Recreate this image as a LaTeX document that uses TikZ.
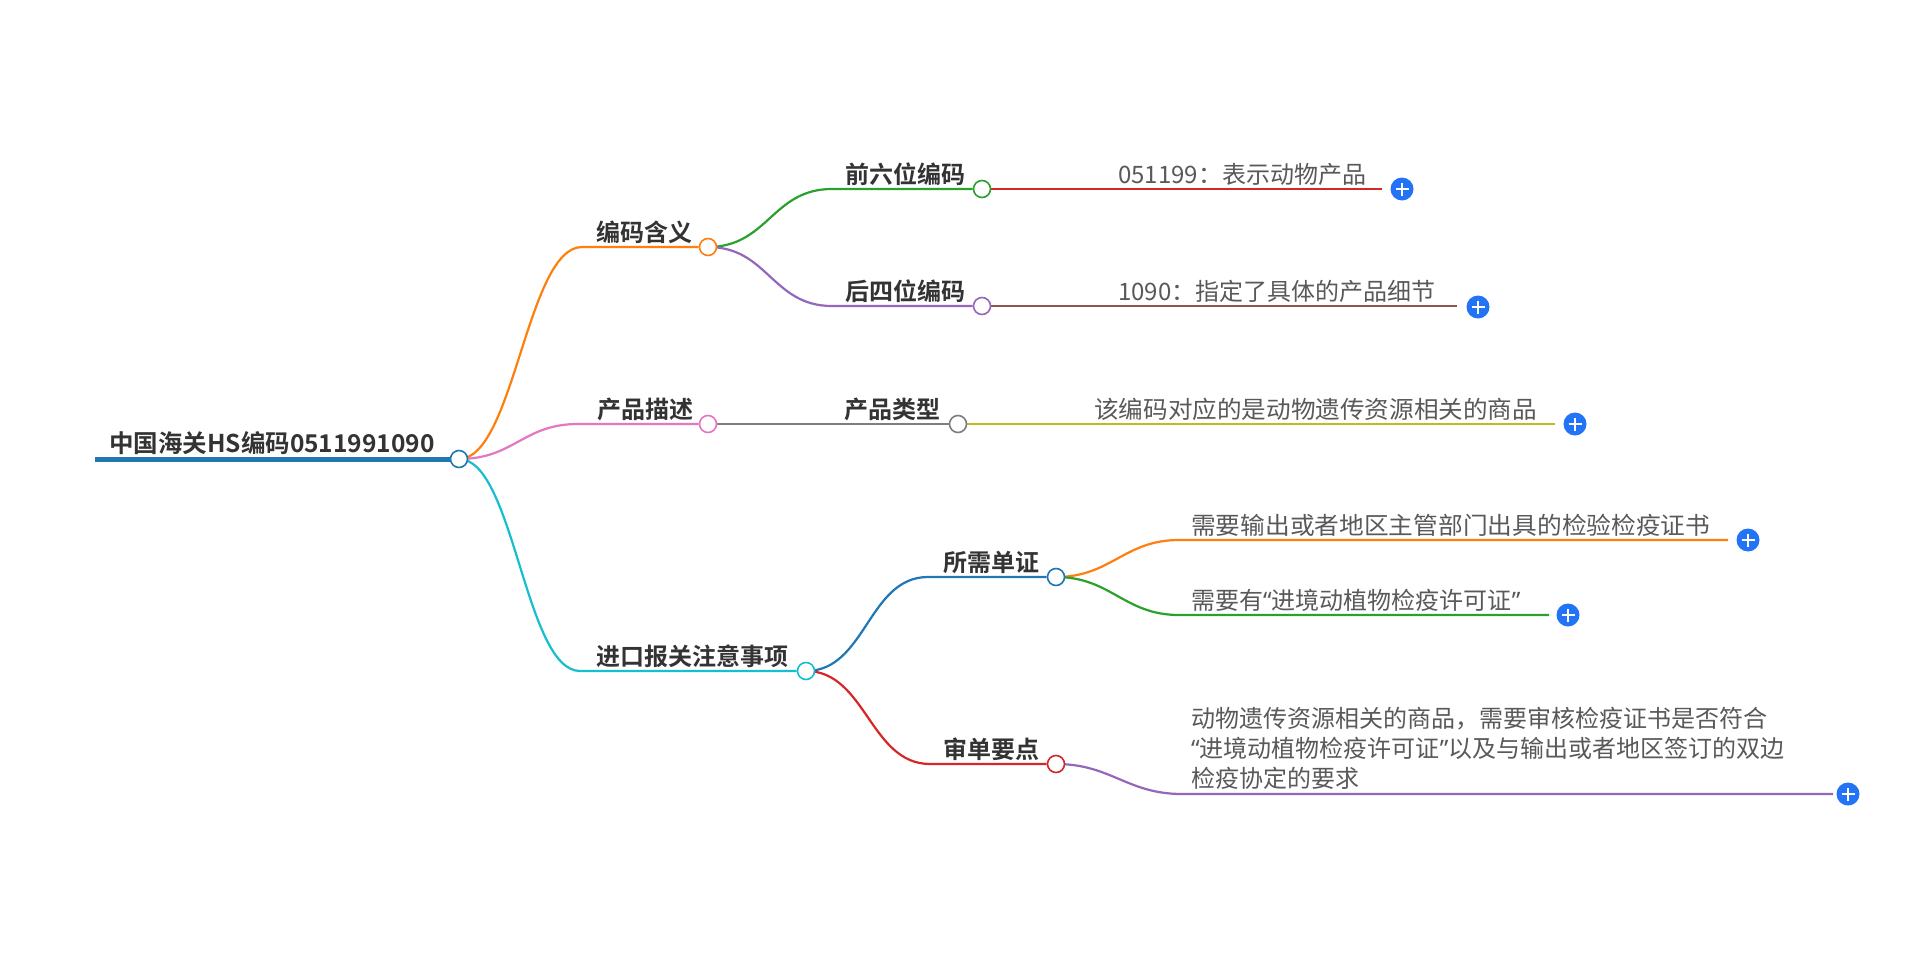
\documentclass[tikz,border=0pt]{standalone}
\usepackage{fontspec}
\newfontfamily\cjk{Noto Sans CJK SC}
\newfontfamily\cjkb{Noto Sans CJK SC Bold}
\newfontfamily\lat{Noto Sans}
\newcommand{\myLQ}{{\lat “}}
\newcommand{\myRQ}{{\lat ”}}
\definecolor{cblue}{HTML}{1F77B4}
\definecolor{corange}{HTML}{FF7F0E}
\definecolor{cgreen}{HTML}{2CA02C}
\definecolor{cred}{HTML}{D62728}
\definecolor{cpurple}{HTML}{9467BD}
\definecolor{cbrown}{HTML}{8C564B}
\definecolor{cpink}{HTML}{E377C2}
\definecolor{cgray}{HTML}{7F7F7F}
\definecolor{colive}{HTML}{BCBD22}
\definecolor{ccyan}{HTML}{17BECF}
\definecolor{pblue}{HTML}{2273F5}
\definecolor{tdark}{HTML}{333333}
\definecolor{tleaf}{HTML}{595959}
\pgfdeclarelayer{bg}
\pgfsetlayers{bg,main}
\begin{document}
\begin{tikzpicture}[x=1pt,y=-1pt,
  dot/.style={circle,draw,fill=white,line width=1.6pt,minimum size=17pt,inner sep=0pt},
  branch/.style={line width=2.2pt},
  lbl/.style={font=\cjkb\fontsize{24}{28}\selectfont,text=tdark,inner sep=0pt,anchor=base west},
  leaf/.style={font=\cjk\fontsize{24}{30}\selectfont,text=tleaf,inner sep=0pt,anchor=base west},
  plusn/.style={circle,fill=pblue,minimum size=23pt,inner sep=0pt,
    path picture={\draw[white,line width=2.2pt]
      ([xshift=-6.5pt]path picture bounding box.center) -- ([xshift=6.5pt]path picture bounding box.center)
      ([yshift=-6.5pt]path picture bounding box.center) -- ([yshift=6.5pt]path picture bounding box.center);}}
]
\useasboundingbox (0,0) rectangle (1920,953);

% root
\coordinate (r0) at (95,459);
\node[dot,draw=cblue] (r) at (459,459) {};
\node[lbl,font=\cjkb\fontsize{24.5}{28}\selectfont] (rt) at (109,452) {中国海关HS编码0511991090};

% level 1
\coordinate (as) at (582,247);
\node[dot,draw=corange] (a) at (708,247) {};
\node[lbl] (at) at (596,241) {编码含义};

\coordinate (bs) at (578,424);
\node[dot,draw=cpink] (b) at (708,424) {};
\node[lbl] (bt) at (597,418) {产品描述};

\coordinate (cs) at (580,671);
\node[dot,draw=ccyan] (c) at (806,671) {};
\node[lbl] (ct) at (596,665) {进口报关注意事项};

% level 2
\coordinate (a1s) at (832,189);
\node[dot,draw=cgreen] (a1) at (982,189) {};
\node[lbl] (a1t) at (845,183) {前六位编码};

\coordinate (a2s) at (832,306);
\node[dot,draw=cpurple] (a2) at (982,306) {};
\node[lbl] (a2t) at (845,300) {后四位编码};

\node[dot,draw=cgray] (b1) at (958,424) {};
\node[lbl] (b1t) at (844,418) {产品类型};

\coordinate (c1s) at (928,577);
\node[dot,draw=cblue] (c1) at (1056,577) {};
\node[lbl] (c1t) at (943,571) {所需单证};

\coordinate (c2s) at (930,764);
\node[dot,draw=cred] (c2) at (1056,764) {};
\node[lbl] (c2t) at (943,758) {审单要点};

% leaves
\coordinate (a1e) at (1382,189);
\node[leaf] (a1l) at (1118,183) {051199：表示动物产品};
\node[plusn] (a1p) at (1402,189) {};

\coordinate (a2e) at (1457,306);
\node[leaf] (a2l) at (1118,300) {1090：指定了具体的产品细节};
\node[plusn] (a2p) at (1478,307) {};

\coordinate (b1e) at (1555,424);
\node[leaf] (b1l) at (1094,418) {\scalebox{1.025}[1]{该编码对应的是动物遗传资源相关的商品}};
\node[plusn] (b1p) at (1575,424) {};

\coordinate (c11s) at (1179,540);
\coordinate (c11e) at (1728,540);
\node[leaf] (c11l) at (1191,534) {\scalebox{1.03}[1]{需要输出或者地区主管部门出具的检验检疫证书}};
\node[plusn] (c11p) at (1748,540) {};

\coordinate (c12s) at (1179,615);
\coordinate (c12e) at (1549,615);
\node[leaf] (c12l) at (1191,609) {需要有\myLQ 进境动植物检疫许可证\myRQ};
\node[plusn] (c12p) at (1568,615) {};

\coordinate (c21s) at (1182,794);
\coordinate (c21e) at (1833,794);
\node[leaf,anchor=south west,align=left] (c21l) at (1191,790) {动物遗传资源相关的商品，需要审核检疫证书是否符合\\\myLQ 进境动植物检疫许可证\myRQ 以及与输出或者地区签订的双边\\检疫协定的要求};
\node[plusn] (c21p) at (1848,794) {};

\begin{pgfonlayer}{bg}
\fill[white] (0,0) rectangle (1920,953);
\draw[cblue,line width=5pt] (r0) -- (r.center);
\draw[corange,branch] (r.center) .. controls +(55,0) and +(-55,0) .. (as) -- (a);
\draw[cpink,branch] (r.center) .. controls +(55,0) and +(-55,0) .. (bs) -- (b);
\draw[ccyan,branch] (r.center) .. controls +(55,0) and +(-55,0) .. (cs) -- (c);

\draw[cgreen,branch] (a.center) .. controls +(60,0) and +(-60,0) .. (a1s) -- (a1);
\draw[cpurple,branch] (a.center) .. controls +(60,0) and +(-60,0) .. (a2s) -- (a2);
\draw[cgray,branch] (b) -- (b1);
\draw[cblue,branch] (c.center) .. controls +(60,0) and +(-60,0) .. (c1s) -- (c1);
\draw[cred,branch] (c.center) .. controls +(60,0) and +(-60,0) .. (c2s) -- (c2);

\draw[cred,branch] (a1) -- (a1e);
\draw[cbrown,branch] (a2) -- (a2e);
\draw[colive,branch] (b1) -- (b1e);
\draw[corange,branch] (c1.center) .. controls +(55,0) and +(-55,0) .. (c11s) -- (c11e);
\draw[cgreen,branch] (c1.center) .. controls +(55,0) and +(-55,0) .. (c12s) -- (c12e);
\draw[cpurple,branch] (c2.center) .. controls +(55,0) and +(-55,0) .. (c21s) -- (c21e);
\end{pgfonlayer}
\end{tikzpicture}
\end{document}
